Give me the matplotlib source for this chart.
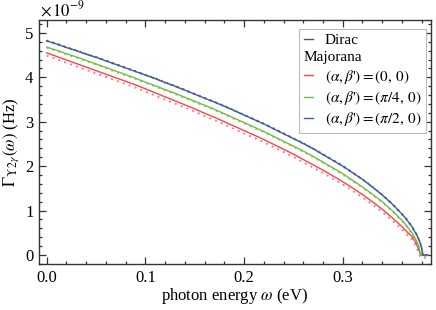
import matplotlib
matplotlib.use("Agg")
import matplotlib.pyplot as plt
import matplotlib.transforms as mtransforms
from matplotlib.lines import Line2D
from matplotlib.ticker import MultipleLocator

plt.rcParams['font.family'] = ['Liberation Serif', 'DejaVu Serif']
plt.rcParams['mathtext.fontset'] = 'stix'

# ---- data, omega in eV, Gamma in 1e-9 Hz ----
omega_common = [0.00, 0.01, 0.02, 0.03, 0.04, 0.05, 0.06, 0.07, 0.08, 0.09,
                0.10, 0.11, 0.12, 0.13, 0.14, 0.15, 0.16, 0.17, 0.18, 0.19,
                0.20, 0.21, 0.22, 0.23, 0.24, 0.25, 0.26, 0.27, 0.28, 0.29,
                0.30, 0.31, 0.32, 0.33, 0.34, 0.35, 0.36]

dirac_vals = [4.82, 4.75, 4.67, 4.60, 4.52, 4.45, 4.37, 4.29, 4.21, 4.13,
              4.05, 3.97, 3.88, 3.80, 3.71, 3.62, 3.53, 3.44, 3.35, 3.25,
              3.15, 3.05, 2.95, 2.84, 2.73, 2.62, 2.51, 2.39, 2.26, 2.13,
              2.00, 1.85, 1.70, 1.53, 1.35, 1.15, 0.92]
blue_vals = [4.82, 4.75, 4.67, 4.60, 4.52, 4.45, 4.37, 4.29, 4.21, 4.13,
             4.05, 3.97, 3.88, 3.80, 3.71, 3.62, 3.53, 3.44, 3.35, 3.25,
             3.15, 3.05, 2.95, 2.84, 2.73, 2.62, 2.51, 2.39, 2.26, 2.13,
             2.00, 1.85, 1.70, 1.53, 1.35, 1.15, 0.92]
green_vals = [4.68, 4.61, 4.53, 4.46, 4.38, 4.30, 4.22, 4.14, 4.06, 3.98,
              3.89, 3.81, 3.72, 3.64, 3.55, 3.46, 3.37, 3.28, 3.18, 3.08,
              2.98, 2.88, 2.78, 2.67, 2.56, 2.45, 2.34, 2.22, 2.09, 1.96,
              1.83, 1.68, 1.53, 1.37, 1.20, 1.00, 0.78]
red_vals = [4.55, 4.47, 4.39, 4.31, 4.23, 4.15, 4.07, 3.99, 3.91, 3.83,
            3.74, 3.65, 3.56, 3.47, 3.38, 3.29, 3.19, 3.10, 3.00, 2.90,
            2.80, 2.70, 2.60, 2.49, 2.38, 2.27, 2.15, 2.03, 1.91, 1.78,
            1.65, 1.51, 1.36, 1.20, 1.03, 0.84, 0.64]

blue_tail_x = [0.365, 0.370, 0.375, 0.378, 0.380, 0.381, 0.386]
blue_tail_y = [0.79, 0.64, 0.45, 0.30, 0.16, 0.0, 0.0]
green_tail_x = [0.365, 0.370, 0.374, 0.377, 0.379, 0.386]
green_tail_y = [0.65, 0.50, 0.35, 0.20, 0.0, 0.0]
red_tail_x = [0.365, 0.370, 0.374, 0.377, 0.379, 0.386]
red_tail_y = [0.52, 0.42, 0.28, 0.12, 0.0, 0.0]

labels = ["Dirac", "Majorana",
          r"$(\alpha,\beta$'$) = (0,\,0)$",
          r"$(\alpha,\beta$'$) = (\pi/4,\,0)$",
          r"$(\alpha,\beta$'$) = (\pi/2,\,0)$"]
x_ticks = [0.0, 0.1, 0.2, 0.3]
y_ticks = [0, 1, 2, 3, 4, 5]

c_red = '#f2474d'
c_green = '#72bb45'
c_blue = '#3b5fae'
c_gray = '#555555'

fig = plt.figure(figsize=(4.36, 3.10), dpi=100)
ax = fig.add_axes([0.0894, 0.1484, 0.8991, 0.7871])

fs = 12
fs_leg = 11


def offset(dy):
    return ax.transData + mtransforms.ScaledTranslation(0, dy / 72.0, fig.dpi_scale_trans)


series = [
    (red_vals, red_tail_x, red_tail_y, c_red, -2.0),
    (green_vals, green_tail_x, green_tail_y, c_green, -0.6),
    (blue_vals, blue_tail_x, blue_tail_y, c_blue, 0.0),
]
for vals, tx, ty, col, dy in series:
    xs = omega_common + tx
    ys = vals + ty
    ax.plot(xs, ys, color=col, lw=1.0, zorder=3)
    ax.plot(xs, ys, color=col, lw=1.4, ls=(0, (1.0, 2.2)), alpha=0.7,
            transform=offset(dy), zorder=2)

# Dirac
xs_d = omega_common + blue_tail_x
ys_d = dirac_vals + blue_tail_y
ax.plot(xs_d, ys_d, color=c_gray, lw=1.3, ls=(0, (1.0, 2.2)), alpha=0.8,
        transform=offset(0.3), zorder=4)

ax.set_xlim(-0.0078, 0.3894)
ax.set_ylim(-0.203, 5.29)
ax.set_xticks(x_ticks)
ax.set_xticklabels([f"{v:.1f}" for v in x_ticks])
ax.set_yticks(y_ticks)
ax.set_yticklabels([str(v) for v in y_ticks])
ax.xaxis.set_minor_locator(MultipleLocator(0.02))
ax.yaxis.set_minor_locator(MultipleLocator(0.2))
ax.tick_params(which='both', direction='in', top=True, right=True,
               labelsize=fs, color='#333333', width=0.9)
ax.tick_params(which='major', length=5, pad=4)
ax.tick_params(which='minor', length=2.5)
for sp in ax.spines.values():
    sp.set_color('#333333')
    sp.set_linewidth(1.0)

ax.set_xlabel(r"photon energy $\omega$ (eV)", fontsize=fs, labelpad=0)
ax.set_ylabel(r"$\Gamma_{\Upsilon\,2\gamma}(\omega)$ (Hz)", fontsize=fs, labelpad=3)
fig.text(0.092, 0.999, r"$\times\,10^{-9}$", fontsize=fs, ha='left', va='top')

handles = [
    Line2D([], [], color=c_gray, lw=1.0),
    Line2D([], [], color='none', lw=0),
    Line2D([], [], color=c_red, lw=1.0),
    Line2D([], [], color=c_green, lw=1.0),
    Line2D([], [], color=c_blue, lw=1.0),
]
leg = ax.legend(handles, labels, loc='upper right', bbox_to_anchor=(0.987, 0.963),
                fontsize=fs_leg, frameon=True, fancybox=False, framealpha=1,
                edgecolor='#bbbbbb', handlelength=0.6, handletextpad=0.8,
                labelspacing=0.22, borderpad=0.3, borderaxespad=0.0)
leg.get_frame().set_linewidth(0.8)

# shift the "Majorana" header left so it starts where handles start
t = leg.get_texts()[1]
dx = (0.6 + 0.8) * fs_leg * fig.dpi / 72.0
t.set_transform(t.get_transform() + mtransforms.Affine2D().translate(-dx, 0))

fig.savefig("out.png", dpi=100)
